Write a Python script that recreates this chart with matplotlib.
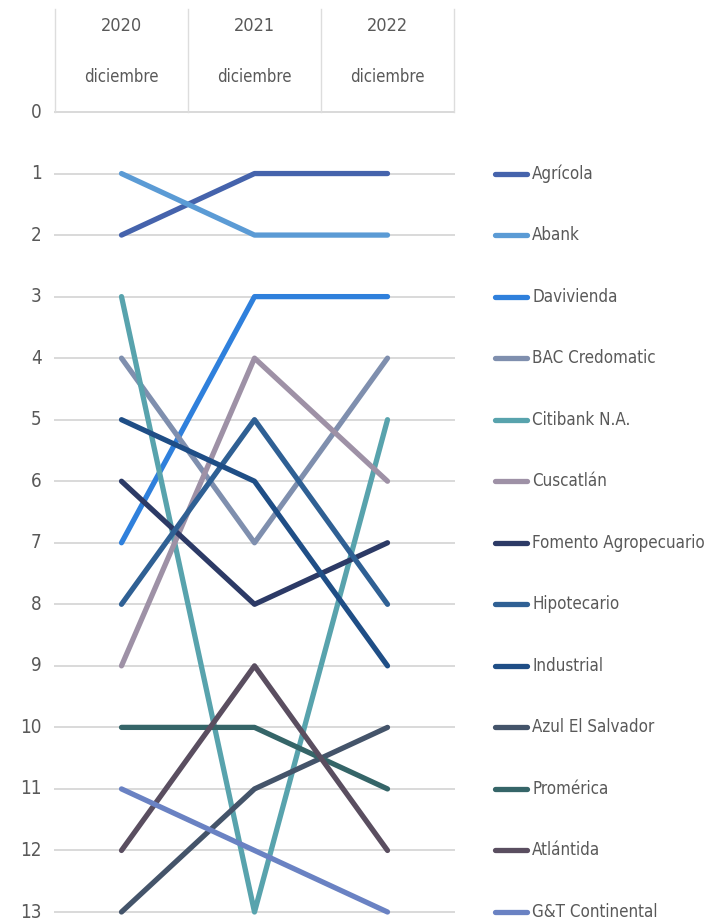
import matplotlib
matplotlib.use("Agg")
import matplotlib.pyplot as plt
import matplotlib.transforms as mtransforms
from matplotlib import font_manager

years = ["2020", "2021", "2022"]
month = "diciembre"
banks = ["Agrícola", "Abank", "Davivienda", "BAC Credomatic", "Citibank N.A.",
         "Cuscatlán", "Fomento Agropecuario", "Hipotecario", "Industrial",
         "Azul El Salvador", "Promérica", "Atlántida", "G&T Continental"]
agricola = [2, 1, 1]
abank = [1, 2, 2]
davivienda = [7, 3, 3]
bac = [4, 7, 4]
citibank = [3, 13, 5]
cuscatlan = [9, 4, 6]
fomento = [6, 8, 7]
hipotecario = [8, 5, 8]
industrial = [5, 6, 9]
azul = [13, 11, 10]
promerica = [10, 10, 11]
atlantida = [12, 9, 12]
gyt = [11, 12, 13]
series = [agricola, abank, davivienda, bac, citibank, cuscatlan, fomento,
          hipotecario, industrial, azul, promerica, atlantida, gyt]
colors = ["#4563AC", "#5B9BD5", "#2F80DC", "#7F8FAE", "#58A3AD", "#9E91A6",
          "#2C3A66", "#2F6094", "#1F4E86", "#44546A", "#356568", "#5A4E60",
          "#6A82C3"]
yticks = list(range(0, 14))

# pick a regular-weight condensed font if available
cand = None
best = -1
for f in font_manager.fontManager.ttflist:
    nm = f.name + " " + f.fname
    is_cond = ("Narrow" in nm or "Condensed" in nm or "condensed" in str(f.stretch))
    if not is_cond:
        continue
    low = f.fname.lower()
    if f.style != "normal" or "bold" in low or "oblique" in low or "italic" in low:
        continue
    w = f.weight if isinstance(f.weight, int) else 400
    if w > 400:
        continue
    score = 1
    if "liberation" in low:
        score = 3
    elif w == 400:
        score = 2
    if score > best:
        best, cand = score, f


def fp(size):
    if cand is not None:
        return dict(fontproperties=font_manager.FontProperties(fname=cand.fname, size=size))
    return dict(family="DejaVu Sans", fontsize=size * 0.85)


fig = plt.figure(figsize=(7.08, 9.22), dpi=100)
L, R = 55 / 708, 454 / 708
B, T = 1 - 912 / 922, 1 - 112 / 922
ax = fig.add_axes([L, B, R - L, T - B])
ax.set_xlim(-0.5, 2.5)
ax.set_ylim(13, 0)
for s in ax.spines.values():
    s.set_visible(False)
ax.set_xticks([])
ax.set_yticks(yticks)
ax.set_yticklabels([])
ax.tick_params(axis="y", length=0)
for t in yticks:
    ax.axhline(t, color="#D9D9D9", lw=1.4, zorder=0, clip_on=False)
    ax.text(-0.6, t, str(t), ha="right", va="center", color="#595959", **fp(13.5))

x = list(range(len(years)))
for vals, c in zip(series, colors):
    ax.plot(x, vals, color=c, lw=3.8, solid_capstyle="round", clip_on=False, zorder=3)

# header table
for xi in [-0.5, 0.5, 1.5, 2.5]:
    ax.plot([xi, xi], [0, -1.68], color="#DDDDDD", lw=1.0, clip_on=False)
for i, yr in enumerate(years):
    ax.text(i, -1.4, yr, ha="center", va="center", color="#595959", **fp(13))
    ax.text(i, -0.57, month, ha="center", va="center", color="#595959", **fp(12))

# legend
trans = mtransforms.blended_transform_factory(fig.transFigure, ax.transData)
for k, (name, c) in enumerate(zip(banks, colors)):
    yk = k + 1
    ax.plot([495 / 708, 527 / 708], [yk, yk], color=c, lw=3.8, solid_capstyle="round",
            transform=trans, clip_on=False)
    ax.text(532 / 708, yk, name, transform=trans, ha="left", va="center",
            color="#595959", **fp(12.2))

fig.savefig("out.png", dpi=100)
